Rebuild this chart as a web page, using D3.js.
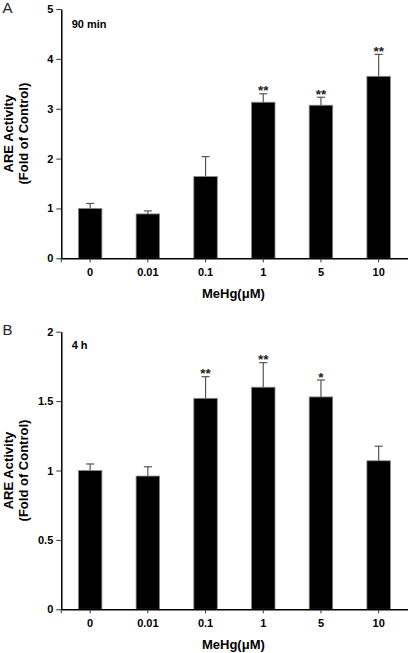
<!DOCTYPE html>
<html>
<head>
<meta charset="utf-8">
<script src="https://cdn.jsdelivr.net/npm/d3@7"></script>
<style>
  html, body { margin: 0; padding: 0; background: #fff; }
  svg { display: block; font-family: "Liberation Sans", Arial, Helvetica, sans-serif; }
</style>
</head>
<body>
<svg id="chart" width="408" height="653"></svg>
<script>
// ---- data ----
const categories = ["0", "0.01", "0.1", "1", "5", "10"];

const valuesA = [1.00, 0.89, 1.64, 3.13, 3.07, 3.65];
const errorsA = [0.10, 0.06, 0.40, 0.17, 0.16, 0.44];
const sigA = ["", "", "", "**", "**", "**"];
const ticksA = [0, 1, 2, 3, 4, 5];
const tickLabelsA = ["0", "1", "2", "3", "4", "5"];

const valuesB = [1.00, 0.96, 1.52, 1.60, 1.53, 1.07];
const errorsB = [0.047, 0.067, 0.156, 0.177, 0.122, 0.105];
const sigB = ["", "", "**", "**", "*", ""];
const ticksB = [0, 0.5, 1, 1.5, 2];
const tickLabelsB = ["0", "0.5", "1", "1.5", "2"];

const panels = [
  { letter: "A", note: "90 min", values: valuesA, errors: errorsA, sig: sigA,
    ticks: ticksA, tickLabels: tickLabelsA, yMax: 5, top: 9, bottom: 258.3, letterY: 13, noteY: 28 },
  { letter: "B", note: "4 h", values: valuesB, errors: errorsB, sig: sigB,
    ticks: ticksB, tickLabels: tickLabelsB, yMax: 2, top: 331.7, bottom: 609.3, letterY: 335, noteY: 349 }
];

const svg = d3.select("#chart");
const xLeft = 61.3, xRight = 407.5;
const barW = 23.5;

const x = d3.scaleBand().domain(categories).range([xLeft, xRight]).padding(0);

panels.forEach(p => {
  const g = svg.append("g");
  const y = d3.scaleLinear().domain([0, p.yMax]).range([p.bottom, p.top]);

  // bars
  g.selectAll("rect.bar").data(p.values).join("rect")
    .attr("class", "bar")
    .attr("x", (d, i) => x(categories[i]) + x.bandwidth() / 2 - barW / 2)
    .attr("width", barW)
    .attr("y", d => y(d))
    .attr("height", d => y(0) - y(d))
    .attr("fill", "#000")
    .attr("stroke", "#8a8a8a")
    .attr("stroke-width", 0.8);

  // error bars (upper only)
  const eg = g.selectAll("g.err").data(p.values).join("g").attr("class", "err");
  eg.append("line")
    .attr("x1", (d, i) => x(categories[i]) + x.bandwidth() / 2)
    .attr("x2", (d, i) => x(categories[i]) + x.bandwidth() / 2)
    .attr("y1", d => y(d))
    .attr("y2", (d, i) => y(d + p.errors[i]))
    .attr("stroke", "#555").attr("stroke-width", 1.2);
  eg.append("line")
    .attr("x1", (d, i) => x(categories[i]) + x.bandwidth() / 2 - 4)
    .attr("x2", (d, i) => x(categories[i]) + x.bandwidth() / 2 + 4)
    .attr("y1", (d, i) => y(d + p.errors[i]))
    .attr("y2", (d, i) => y(d + p.errors[i]))
    .attr("stroke", "#555").attr("stroke-width", 1.2);

  // significance stars
  g.selectAll("text.sig").data(p.values).join("text")
    .attr("class", "sig")
    .attr("x", (d, i) => x(categories[i]) + x.bandwidth() / 2)
    .attr("y", (d, i) => y(d + p.errors[i]) + 1.5)
    .attr("text-anchor", "middle")
    .attr("font-size", 13.5)
    .attr("font-weight", "bold")
    .attr("fill", "#222")
    .text((d, i) => p.sig[i]);

  // y axis
  const yAxis = d3.axisLeft(y).tickValues(p.ticks)
    .tickFormat((d, i) => p.tickLabels[i])
    .tickSize(5).tickSizeOuter(0).tickPadding(3);
  const ya = g.append("g").attr("transform", `translate(${xLeft},0)`).call(yAxis);
  ya.select(".domain").attr("stroke", "#000").attr("stroke-width", 1.5);
  ya.selectAll(".tick line").attr("stroke", "#333").attr("stroke-width", 1);
  ya.selectAll(".tick text").attr("font-size", 11).attr("font-weight", "bold")
    .attr("fill", "#000").attr("font-family", "Liberation Sans, Arial, sans-serif");

  // x axis
  const xAxis = d3.axisBottom(x).tickSize(4).tickSizeOuter(0).tickPadding(6);
  const xa = g.append("g").attr("transform", `translate(0,${p.bottom})`).call(xAxis);
  xa.select(".domain").attr("stroke", "#000").attr("stroke-width", 1.5);
  xa.selectAll(".tick line").attr("stroke", "#333").attr("stroke-width", 1);
  xa.selectAll(".tick text").attr("font-size", 11).attr("font-weight", "bold")
    .attr("fill", "#000").attr("font-family", "Liberation Sans, Arial, sans-serif");
  xa.append("line").attr("x1", xLeft).attr("x2", xLeft).attr("y1", 0).attr("y2", 4)
    .attr("stroke", "#333").attr("stroke-width", 1);

  // x title
  g.append("text")
    .attr("x", (xLeft + xRight) / 2 - 1)
    .attr("y", p.bottom + 39.5)
    .attr("text-anchor", "middle")
    .attr("font-size", 13).attr("font-weight", "bold")
    .text("MeHg(\u03BCM)");

  // y title (two lines)
  const cy = (p.top + p.bottom) / 2;
  g.append("text")
    .attr("transform", `translate(12.8,${cy}) rotate(-90)`)
    .attr("text-anchor", "middle")
    .attr("font-size", 13).attr("font-weight", "bold")
    .text("ARE Activity");
  g.append("text")
    .attr("transform", `translate(27.5,${cy}) rotate(-90)`)
    .attr("text-anchor", "middle")
    .attr("font-size", 13).attr("font-weight", "bold")
    .text("(Fold of Control)");

  // panel letter
  g.append("text")
    .attr("x", 2.5).attr("y", p.letterY)
    .attr("font-size", 15).attr("fill", "#222")
    .text(p.letter);

  // note
  g.append("text")
    .attr("x", 71.7).attr("y", p.noteY)
    .attr("font-size", 11).attr("font-weight", "bold")
    .text(p.note);
});
</script>
</body>
</html>
